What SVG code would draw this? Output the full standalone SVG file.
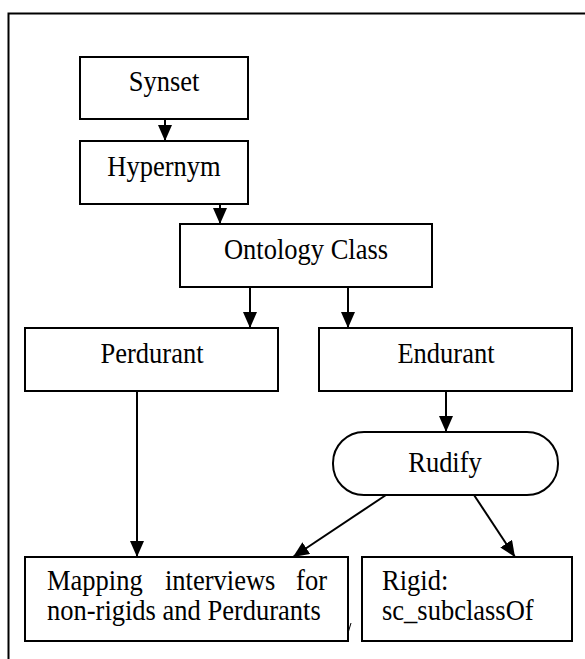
<svg xmlns="http://www.w3.org/2000/svg" width="585" height="659" viewBox="0 0 585 659">
<style>
.box{fill:#fff;stroke:#000;stroke-width:2}
.t{font-family:"Liberation Serif","Times New Roman",serif;font-size:26.5px;fill:#000}
.c{text-anchor:middle}
.e{stroke:#000;stroke-width:2;fill:none}
</style>
<defs>
<marker id="ah" markerUnits="userSpaceOnUse" markerWidth="16" markerHeight="14" refX="16" refY="7" orient="auto">
<path d="M0,0 L16,7 L0,14 z" fill="#000"/>
</marker>
</defs>
<rect width="585" height="659" fill="#fff"/>
<path d="M8.5,680 V13.5 H600" fill="none" stroke="#000" stroke-width="2"/>
<g id="connectors">
<line class="e" x1="165" y1="119" x2="165" y2="141" marker-end="url(#ah)"/>
<line class="e" x1="220" y1="204" x2="220" y2="224" marker-end="url(#ah)"/>
<line class="e" x1="250" y1="287" x2="250" y2="328" marker-end="url(#ah)"/>
<line class="e" x1="348" y1="287" x2="348" y2="328" marker-end="url(#ah)"/>
<line class="e" x1="446" y1="391" x2="446" y2="432" marker-end="url(#ah)"/>
<line class="e" x1="137" y1="391" x2="137" y2="557" marker-end="url(#ah)"/>
<line class="e" x1="386" y1="495" x2="293" y2="557" marker-end="url(#ah)"/>
<line class="e" x1="474" y1="495" x2="515" y2="557" marker-end="url(#ah)"/>
</g>
<g id="synset"><rect class="box" x="80" y="57" width="168" height="62"/><text class="t c" transform="matrix(1,0,0,1.08,164,91)">Synset</text></g>
<g id="hypernym"><rect class="box" x="80" y="141" width="168" height="63"/><text class="t c" transform="matrix(1,0,0,1.08,164,176)">Hypernym</text></g>
<g id="ontology"><rect class="box" x="180" y="224" width="252" height="63"/><text class="t c" transform="matrix(1,0,0,1.08,306,259)">Ontology Class</text></g>
<g id="perdurant"><rect class="box" x="25" y="328" width="253" height="63"/><text class="t c" transform="matrix(1,0,0,1.08,152,363)">Perdurant</text></g>
<g id="endurant"><rect class="box" x="319" y="328" width="253" height="63"/><text class="t c" transform="matrix(1,0,0,1.08,446,363)">Endurant</text></g>
<g id="rudify"><rect class="box" x="333" y="432" width="225" height="63" rx="31" ry="31"/><text class="t c" transform="matrix(1,0,0,1.08,445,472)">Rudify</text></g>
<g id="mapping"><rect class="box" x="25" y="557" width="323" height="84"/>
<text class="t" transform="matrix(1,0,0,1.08,47,590)">Mapping</text>
<text class="t" transform="matrix(1,0,0,1.08,165,590)">interviews</text>
<text class="t" transform="matrix(1,0,0,1.08,327,590)" text-anchor="end">for</text>
<text class="t" transform="matrix(1,0,0,1.08,47,620)">non-rigids and Perdurants</text>
</g>
<line x1="351" y1="623" x2="348" y2="633" stroke="#000" stroke-width="1"/>
<g id="rigid"><rect class="box" x="362" y="557" width="210" height="84"/>
<text class="t" transform="matrix(1,0,0,1.08,382,590)">Rigid:</text>
<text class="t" transform="matrix(1,0,0,1.08,382,620)">sc_subclassOf</text>
</g>
</svg>
